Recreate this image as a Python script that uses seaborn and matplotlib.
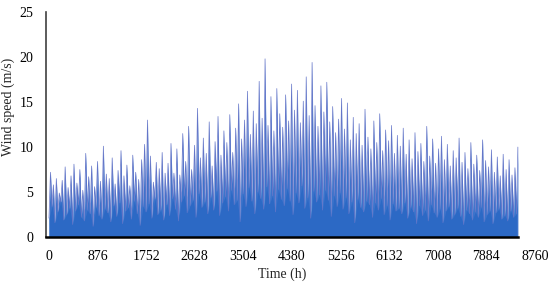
import numpy as np
import pandas as pd
import matplotlib
matplotlib.use("Agg")
import matplotlib.pyplot as plt
import seaborn as sns

# hourly wind speed: alternating local highs / lows along the year
highs = [
    7.2, 5.8, 6.5, 4.9, 6.3, 7.8, 5.5, 6.8, 8.1, 6.0, 7.5, 5.2, 9.3, 6.7, 7.9, 5.6, 8.4, 6.2, 10.1, 7.0,
    6.5, 8.8, 5.9, 7.4, 9.6, 6.8, 8.0, 5.7, 9.1, 7.2, 6.4, 8.6, 10.3, 13.0, 9.0, 6.1, 8.3, 7.6, 9.4, 7.1,
    8.2, 10.4, 7.1, 9.8, 6.9, 11.5, 8.4, 12.3, 7.5, 10.2, 14.3, 8.8, 11.0, 9.3, 12.8, 7.9, 10.6, 13.4, 9.1, 11.8,
    10.5, 13.6, 9.4, 12.1, 14.8, 10.9, 13.0, 16.2, 11.4, 14.0, 12.6, 17.3, 13.2, 19.8, 12.4, 15.6, 11.8, 16.5, 13.7, 12.2,
    15.8, 12.9, 17.0, 14.1, 16.3, 12.7, 15.1, 17.8, 13.5, 19.4, 14.6, 12.3, 16.8, 13.9, 17.2, 12.8, 14.5, 11.6, 13.1, 15.4,
    12.0, 14.9, 10.8, 13.3, 11.5, 12.6, 10.2, 14.2, 11.1, 9.8, 12.9, 10.5, 13.7, 9.6, 11.9, 10.7, 12.4, 9.3, 11.3, 10.1,
    12.1, 9.2, 10.8, 8.7, 11.6, 9.5, 10.4, 8.4, 12.3, 9.0, 10.9, 8.2, 9.8, 11.2, 8.6, 10.3, 7.9, 9.6, 8.8, 11.0,
    8.3, 9.4, 7.6, 10.5, 8.1, 9.1, 7.4, 10.8, 8.5, 7.8, 9.7, 7.2, 8.9, 6.8, 9.2, 7.5, 8.6, 6.9, 7.7, 10.0,
]
lows = [
    2.1, 3.4, 1.6, 2.8, 3.9, 1.9, 2.5, 3.2, 1.4, 2.9, 3.6, 2.2, 1.8, 3.0, 2.6, 1.2, 3.3, 2.4, 2.0, 3.1,
    2.7, 1.7, 3.5, 2.3, 3.8, 1.5, 2.9, 3.3, 2.0, 4.0, 2.6, 1.3, 3.4, 2.8, 3.7, 2.1, 4.2, 2.5, 3.0, 1.9,
    3.6, 2.4, 4.3, 3.1, 1.8, 3.9, 4.6, 2.7, 3.5, 4.1, 2.2, 4.8, 3.3, 3.9, 2.6, 4.4, 3.0, 5.1, 2.4, 3.8,
    4.5, 2.9, 5.2, 3.6, 4.1, 1.7, 4.8, 3.4, 5.5, 4.0, 2.6, 5.0, 4.3, 3.1, 5.6, 3.7, 4.6, 2.8, 5.3, 4.2,
    3.5, 5.4, 4.0, 2.5, 4.9, 3.8, 5.7, 3.2, 4.4, 2.1, 5.1, 3.9, 4.7, 3.0, 5.2, 4.1, 2.3, 4.6, 3.4, 4.9,
    3.1, 4.4, 2.6, 3.9, 1.6, 4.2, 3.3, 2.8, 4.0, 3.6, 2.2, 3.8, 3.0, 4.3, 2.5, 3.5, 1.9, 3.7, 2.9, 3.2,
    2.6, 3.8, 2.1, 3.3, 2.8, 1.5, 3.5, 2.4, 3.0, 1.8, 3.6, 2.7, 2.2, 3.1, 1.6, 2.9, 3.4, 2.0, 2.5, 3.2,
    2.3, 1.4, 3.0, 2.6, 1.9, 2.8, 2.2, 3.3, 1.7, 2.5, 2.9, 1.5, 2.7, 3.1, 2.0, 2.4, 1.8, 2.9, 2.2, 2.6,
]
tick_hours = [0, 876, 1752, 2628, 3504, 4380, 5256, 6132, 7008, 7884, 8760]
y_ticks = [0, 5, 10, 15, 20, 25]

# interleave lows and highs into one series spread over the year
speed = np.empty(len(highs) * 2)
speed[0::2] = lows
speed[1::2] = highs
hours = np.linspace(0, 8760, len(speed))
df = pd.DataFrame({"hour": hours, "speed": speed})
base = pd.DataFrame({"hour": hours[0::2], "speed": lows})

sns.set_style("white")
plt.rcParams["font.family"] = ["Liberation Serif", "DejaVu Serif"]

fig = plt.figure(figsize=(5.5, 2.86), dpi=100)
ax = fig.add_axes([0.0836, 0.171, 0.898, 0.787])

# spikes slightly lighter, solid base underneath
ax.fill_between(df["hour"], 0, df["speed"], color="#3C73CB", linewidth=0)
sns.lineplot(data=df, x="hour", y="speed", ax=ax, color="#6475C8", linewidth=0.5)
ax.fill_between(base["hour"], 0, base["speed"], color="#2C69C5", linewidth=0)

ax.set_xlim(-56, 9171)
ax.set_ylim(0, 25)
# excel category axis places labels slightly wider than the data span
stretch = 1.036
ax.set_xticks(np.array(tick_hours) * stretch)
ax.set_xticklabels([str(t) for t in tick_hours])
ax.set_yticks(y_ticks)
ax.set_yticklabels([str(t) for t in y_ticks])
ax.tick_params(axis="both", length=0, labelsize=10, colors="black")
ax.tick_params(axis="x", pad=9)
ax.tick_params(axis="y", pad=9)

ax.set_xlabel("Time (h)", fontsize=10)
ax.xaxis.set_label_coords(0.478, -0.135)
ax.set_ylabel("Wind speed (m/s)", fontsize=10)
ax.yaxis.set_label_coords(-0.062, 0.58)

sns.despine(ax=ax)
ax.spines["left"].set_color("#404040")
ax.spines["left"].set_linewidth(1.2)
ax.spines["bottom"].set_color("black")
ax.spines["bottom"].set_linewidth(1.8)
ax.spines["bottom"].set_bounds(-56, 8760)

fig.savefig("out.png", dpi=100)
